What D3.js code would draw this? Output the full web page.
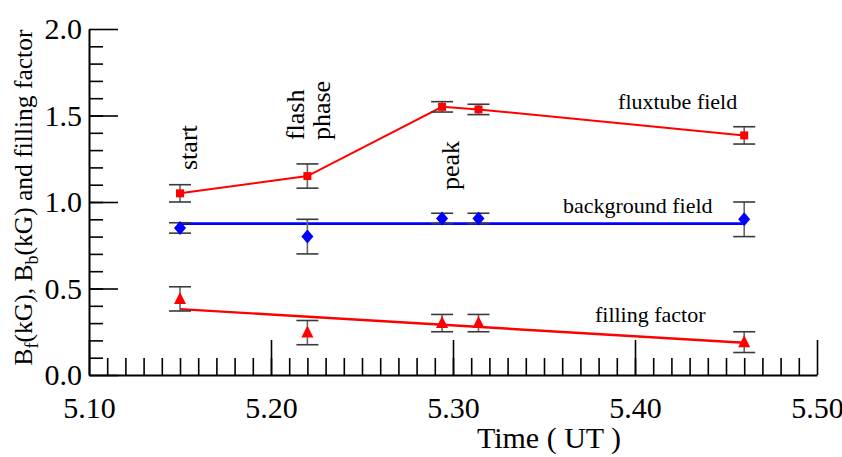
<!DOCTYPE html>
<html>
<head>
<meta charset="utf-8">
<script src="https://cdn.jsdelivr.net/npm/d3@7"></script>
</head>
<body style="margin:0; background:#fff">
<div id="chart"></div>
<script>
// observation times (UT) and measured values
let times = [5.15, 5.22, 5.294, 5.314, 5.46];
let fluxField = [1.05, 1.15, 1.55, 1.535, 1.385];
let fluxErr = [0.05, 0.07, 0.03, 0.03, 0.05];
let bgField = [0.85, 0.80, 0.905, 0.905, 0.90];
let bgErr = [0.03, 0.10, 0.03, 0.03, 0.10];
let fillFactor = [0.44, 0.245, 0.30, 0.30, 0.19];
let fillErr = [0.07, 0.07, 0.05, 0.05, 0.06];

// fitted lines
let bgFitT = [5.15, 5.46], bgFitV = [0.875, 0.875];
let fillFitT = [5.15, 5.46], fillFitV = [0.381, 0.186];

// axis ticks
let xMajor = [5.10, 5.20, 5.30, 5.40, 5.50];
let xMinor = d3.range(5.11, 5.50, 0.01);
let yMajor = [0.0, 0.5, 1.0, 1.5, 2.0];
let yMinor = d3.range(0.1, 2.0, 0.1);

// annotations: text, x (UT), y (value), rotated?
let noteText = ['start', 'flash', 'phase', 'peak', 'fluxtube field', 'background field', 'filling factor'];
let noteX = [5.1593, 5.2181, 5.2324, 5.3033, 5.3907, 5.3604, 5.378];
let noteY = [1.185, 1.358, 1.358, 1.069, 1.536, 0.935, 0.306];
let noteRot = [true, true, true, true, false, false, false];

let serif = 'Liberation Serif';
let width = 842, height = 457;
let svg = d3.select('#chart').append('svg')
  .attr('width', width)
  .attr('height', height)
  .style('display', 'block');

let xScale = d3.scaleLinear().domain([5.10, 5.50]).range([89, 817]);
let yScale = d3.scaleLinear().domain([0, 2.0]).range([375, 29]);

// minor ticks first
let gxMinor = svg.append('g')
  .attr('transform', 'translate(0,375)')
  .call(d3.axisBottom(xScale).tickValues(xMinor).tickSize(-17).tickSizeOuter(0).tickFormat(''));
gxMinor.select('.domain').remove();

let gyMinor = svg.append('g')
  .attr('transform', 'translate(89,0)')
  .call(d3.axisLeft(yScale).tickValues(yMinor).tickSize(-14).tickSizeOuter(0).tickFormat(''));
gyMinor.select('.domain').remove();

// major ticks with labels
let gx = svg.append('g')
  .attr('transform', 'translate(0,375)')
  .call(d3.axisBottom(xScale).tickValues(xMajor).tickSize(-35).tickSizeOuter(0).tickFormat(d3.format('.2f')));

let gy = svg.append('g')
  .attr('transform', 'translate(89,0)')
  .call(d3.axisLeft(yScale).tickValues(yMajor).tickSize(-29).tickSizeOuter(0).tickFormat(d3.format('.1f')));

svg.selectAll('g').attr('font-family', serif);
svg.selectAll('.tick line').attr('stroke', '#000').attr('stroke-width', 1.6);
svg.selectAll('.domain').attr('stroke', '#000').attr('stroke-width', 2);

gx.selectAll('text')
  .attr('y', 43).attr('dy', null)
  .attr('fill', '#000')
  .attr('font-family', serif)
  .attr('font-size', 30);

gy.selectAll('text')
  .attr('x', -7).attr('dy', '0.33em')
  .attr('fill', '#000')
  .attr('font-family', serif)
  .attr('font-size', 30);

// axis titles
svg.append('text')
  .attr('x', 549).attr('y', 448)
  .attr('font-family', serif)
  .attr('font-size', 30)
  .attr('text-anchor', 'middle')
  .text('Time ( UT )');

let yTitle = svg.append('text')
  .attr('transform', 'translate(32,197.5) rotate(-90)')
  .attr('font-family', serif)
  .attr('font-size', 25.5)
  .attr('text-anchor', 'middle');
yTitle.append('tspan').text('B');
yTitle.append('tspan').attr('dy', 6).attr('font-size', 18).text('f');
yTitle.append('tspan').attr('dy', -6).text('(kG), B');
yTitle.append('tspan').attr('dy', 6).attr('font-size', 18).text('b');
yTitle.append('tspan').attr('dy', -6).text('(kG) and filling factor');

// build point tables
let fluxData = times.map((t, i) => ({t: t, v: fluxField[i], e: fluxErr[i]}));
let bgData = times.map((t, i) => ({t: t, v: bgField[i], e: bgErr[i]}));
let fillData = times.map((t, i) => ({t: t, v: fillFactor[i], e: fillErr[i]}));

let line = d3.line().x(d => xScale(d.t)).y(d => yScale(d.v));

// lines
svg.append('path')
  .datum(fluxData)
  .attr('d', line)
  .attr('fill', 'none')
  .attr('stroke', '#ff0000')
  .attr('stroke-width', 2);

svg.append('path')
  .datum(bgFitT.map((t, i) => ({t: t, v: bgFitV[i]})))
  .attr('d', line)
  .attr('fill', 'none')
  .attr('stroke', '#0000ff')
  .attr('stroke-width', 2.6);

svg.append('path')
  .datum(fillFitT.map((t, i) => ({t: t, v: fillFitV[i]})))
  .attr('d', line)
  .attr('fill', 'none')
  .attr('stroke', '#ff0000')
  .attr('stroke-width', 2.4);

// error bars
function errorBars(data) {
  let g = svg.append('g').attr('stroke', '#3a3a3a').attr('stroke-width', 1.6);
  g.selectAll('.ev').data(data).enter().append('line')
    .attr('x1', d => xScale(d.t)).attr('x2', d => xScale(d.t))
    .attr('y1', d => yScale(d.v - d.e)).attr('y2', d => yScale(d.v + d.e))
    .attr('stroke', '#666');
  g.selectAll('.et').data(data).enter().append('line')
    .attr('x1', d => xScale(d.t) - 11).attr('x2', d => xScale(d.t) + 11)
    .attr('y1', d => yScale(d.v + d.e)).attr('y2', d => yScale(d.v + d.e));
  g.selectAll('.eb').data(data).enter().append('line')
    .attr('x1', d => xScale(d.t) - 11).attr('x2', d => xScale(d.t) + 11)
    .attr('y1', d => yScale(d.v - d.e)).attr('y2', d => yScale(d.v - d.e));
}
errorBars(fluxData);
errorBars(bgData);
errorBars(fillData);

// markers
svg.selectAll('.sq').data(fluxData).enter().append('rect')
  .attr('x', d => xScale(d.t) - 4)
  .attr('y', d => yScale(d.v) - 4)
  .attr('width', 8).attr('height', 8)
  .attr('fill', '#ff0000');

svg.selectAll('.dm').data(bgData).enter().append('path')
  .attr('d', d => {
    let cx = xScale(d.t), cy = yScale(d.v);
    return 'M' + cx + ',' + (cy - 7) + 'L' + (cx + 6) + ',' + cy + 'L' + cx + ',' + (cy + 7) + 'L' + (cx - 6) + ',' + cy + 'Z';
  })
  .attr('fill', '#0000ff');

svg.selectAll('.tr').data(fillData).enter().append('path')
  .attr('d', d => {
    let cx = xScale(d.t), cy = yScale(d.v);
    return 'M' + cx + ',' + (cy - 7) + 'L' + (cx + 6) + ',' + (cy + 5) + 'L' + (cx - 6) + ',' + (cy + 5) + 'Z';
  })
  .attr('fill', '#ff0000');

// annotations
noteText.forEach((txt, i) => {
  let px = xScale(noteX[i]), py = yScale(noteY[i]);
  let t = svg.append('text')
    .attr('font-family', serif)
    .attr('font-size', noteRot[i] ? 26 : 22)
    .text(txt);
  if (noteRot[i]) t.attr('transform', 'translate(' + px + ',' + py + ') rotate(-90)');
  else t.attr('x', px).attr('y', py);
});
</script>
</body>
</html>
